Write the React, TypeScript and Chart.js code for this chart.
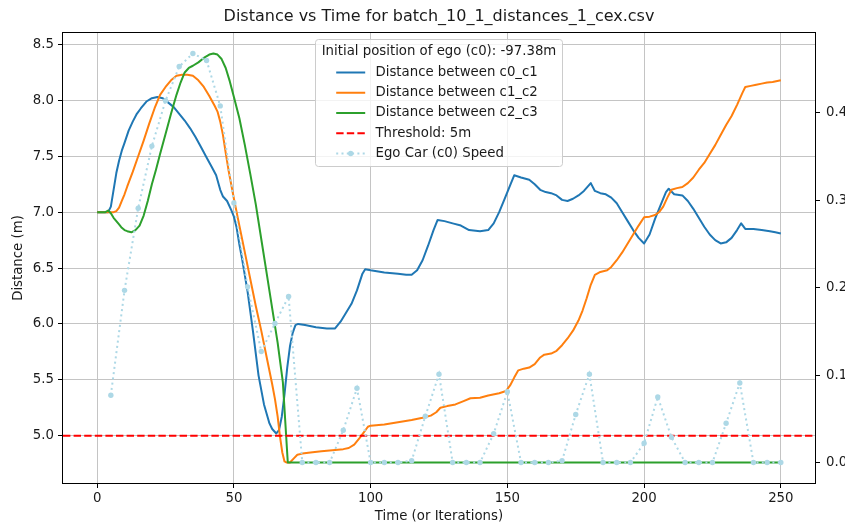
import React, { useEffect, useRef } from "react";
import { Chart, registerables } from "chart.js";

Chart.register(...registerables);

const TITLE = "Distance vs Time for batch_10_1_distances_1_cex.csv";
const X_LABEL = "Time (or Iterations)";
const Y_LABEL = "Distance (m)";
const LEGEND_TITLE = "Initial position of ego (c0): -97.38m";
const LEGEND_LABELS = [
  "Distance between c0_c1",
  "Distance between c1_c2",
  "Distance between c2_c3",
  "Threshold: 5m",
  "Ego Car (c0) Speed",
];

const X_TICKS = [0, 50, 100, 150, 200, 250];
const Y_TICKS = [5.0, 5.5, 6.0, 6.5, 7.0, 7.5, 8.0, 8.5];
const Y2_TICKS = [0.0, 0.1, 0.2, 0.3, 0.4];
const X_RANGE = [-12.5, 262.5];
const Y_RANGE = [4.577, 8.603];
const Y2_RANGE = [-0.0234, 0.4914];
const THRESHOLD = 5;

const c0c1: [number, number][] = [
  [0, 7.0], [4, 7.0], [5, 7.05], [6, 7.2], [7, 7.35], [8, 7.46], [9, 7.55], [10, 7.62], [11.5, 7.73], [13, 7.81],
  [14.5, 7.88], [16, 7.93], [18, 7.99], [20, 8.02], [22, 8.03], [24, 8.02], [26, 7.98], [28, 7.94], [30, 7.88],
  [32, 7.82], [34, 7.75], [36, 7.67], [38, 7.58], [40, 7.49], [42, 7.4], [43.5, 7.33], [45, 7.2], [46, 7.14],
  [47.5, 7.1], [49, 7.02], [50, 6.96], [51, 6.86], [52, 6.71], [53, 6.58], [55, 6.29], [57, 5.93], [59, 5.54],
  [61, 5.28], [63, 5.11], [64, 5.06], [65.5, 5.02], [66.5, 5.05], [67.5, 5.17], [68.5, 5.37], [69.5, 5.61],
  [70.5, 5.8], [71.5, 5.92], [72.5, 5.99], [73.5, 6.0], [76, 5.99], [80, 5.97], [84, 5.96], [87, 5.96], [89, 6.02],
  [91, 6.1], [93, 6.18], [95, 6.3], [97, 6.45], [98, 6.49], [100, 6.48], [105, 6.46], [110, 6.45], [113, 6.44],
  [115, 6.44], [117, 6.48], [119, 6.57], [121, 6.7], [123, 6.84], [124.5, 6.93], [127, 6.92], [130, 6.9],
  [133, 6.88], [136, 6.84], [140, 6.83], [143, 6.84], [145, 6.9], [147, 7.0], [149, 7.12], [151, 7.24],
  [152.5, 7.33], [155, 7.31], [158, 7.29], [160, 7.25], [162, 7.2], [164, 7.18], [166, 7.17], [168, 7.15],
  [170, 7.11], [172, 7.1], [174, 7.12], [176, 7.15], [178, 7.19], [180.5, 7.26], [182, 7.19], [184, 7.17],
  [186, 7.16], [188, 7.13], [190, 7.08], [192, 7.0], [194, 6.92], [196, 6.84], [198, 6.77], [200, 6.72],
  [202, 6.8], [204, 6.94], [206, 7.06], [208, 7.18], [209, 7.21], [211, 7.16], [214, 7.15], [216, 7.1],
  [218, 7.03], [220, 6.95], [222, 6.87], [224, 6.8], [226, 6.75], [228, 6.72], [230, 6.73], [232, 6.77],
  [234, 6.84], [235.5, 6.9], [237, 6.85], [240, 6.85], [243, 6.84], [246, 6.83], [248, 6.82], [250, 6.81],
];

const c1c2: [number, number][] = [
  [0, 7.0], [6, 7.0], [7, 7.01], [8, 7.04], [9, 7.1], [10, 7.16], [11, 7.23], [13, 7.36], [15, 7.5], [17, 7.64],
  [19, 7.79], [21, 7.93], [23, 8.05], [25, 8.12], [27, 8.18], [29, 8.22], [31, 8.23], [33, 8.23], [35, 8.22],
  [37, 8.18], [39, 8.12], [41, 8.04], [43, 7.95], [44, 7.9], [45, 7.81], [46, 7.69], [47, 7.53], [48, 7.38],
  [50, 7.12], [52, 6.88], [54, 6.64], [56, 6.4], [58, 6.16], [60, 5.94], [62, 5.7], [64, 5.46], [65, 5.33],
  [66, 5.17], [66.8, 5.0], [67.7, 4.85], [68.5, 4.77], [69.3, 4.76], [70.5, 4.76], [72, 4.8], [73.2, 4.83],
  [75, 4.84], [78, 4.85], [82, 4.86], [86, 4.87], [90, 4.88], [92, 4.89], [94, 4.92], [96, 4.98], [97.5, 5.03],
  [99, 5.08], [100, 5.09], [105, 5.1], [110, 5.12], [115, 5.14], [119, 5.16], [122, 5.18], [124, 5.21],
  [125.5, 5.25], [128, 5.265], [131, 5.28], [134, 5.31], [136.5, 5.335], [140, 5.34], [143, 5.36], [147, 5.38],
  [149.5, 5.4], [151, 5.45], [152.5, 5.52], [154, 5.585], [156, 5.6], [158, 5.61], [160, 5.64], [162, 5.7],
  [163.5, 5.725], [166, 5.735], [168, 5.76], [170, 5.81], [172, 5.87], [174, 5.94], [176, 6.03], [177.5, 6.12],
  [179, 6.23], [180.5, 6.35], [182, 6.44], [184, 6.465], [186.5, 6.48], [188, 6.51], [190, 6.57], [192, 6.64],
  [194, 6.72], [196, 6.8], [198, 6.88], [200, 6.955], [202, 6.96], [204, 6.975], [205.5, 7.0], [207, 7.05],
  [208.5, 7.13], [210, 7.2], [212, 7.215], [214, 7.225], [216, 7.26], [218, 7.31], [220, 7.38], [222, 7.44],
  [224, 7.52], [226, 7.6], [228, 7.69], [230, 7.78], [232, 7.86], [234, 7.96], [236, 8.07], [237, 8.12],
  [239, 8.13], [241, 8.14], [243, 8.15], [245, 8.16], [247, 8.165], [250, 8.18],
];

const c2c3: [number, number][] = [
  [0, 7.0], [3, 7.0], [4, 7.015], [5, 6.99], [6, 6.95], [7, 6.92], [8, 6.89], [9, 6.86], [10, 6.84], [11, 6.83],
  [12.5, 6.82], [14, 6.84], [15.5, 6.88], [17, 6.97], [18.5, 7.1], [20, 7.25], [21.5, 7.38], [23, 7.52],
  [25, 7.7], [27, 7.88], [29, 8.05], [30.5, 8.16], [32, 8.25], [33.5, 8.29], [35, 8.31], [37, 8.34], [39, 8.38],
  [41, 8.41], [42.5, 8.42], [44, 8.41], [45.5, 8.37], [47, 8.29], [48.5, 8.17], [50, 8.03], [52, 7.84],
  [54, 7.6], [56, 7.34], [58, 7.07], [60, 6.76], [62, 6.45], [64, 6.14], [66, 5.83], [67.9, 5.48],
  [69.7, 4.76], [250, 4.76],
];

const SPEED_X = [
  5, 10, 15, 20, 25, 30, 35, 40, 45, 50, 55, 60, 65, 70, 75, 80, 85, 90, 95, 100, 105, 110, 115, 120, 125,
  130, 135, 140, 145, 150, 155, 160, 165, 170, 175, 180, 185, 190, 195, 200, 205, 210, 215, 220, 225, 230,
  235, 240, 245, 250,
];
const SPEED = [
  0.077, 0.197, 0.291, 0.362, 0.414, 0.453, 0.468, 0.46, 0.408, 0.297, 0.201, 0.127, 0.159, 0.19, 0, 0, 0,
  0.037, 0.085, 0, 0, 0, 0.002, 0.053, 0.101, 0, 0, 0, 0.033, 0.081, 0, 0, 0, 0.002, 0.055, 0.101, 0, 0, 0,
  0.022, 0.075, 0.029, 0, 0, 0, 0.045, 0.091, 0, 0, 0,
];

const FONT = '"DejaVu Sans", "Noto Sans", sans-serif';
const BLUE = "#1f77b4";
const ORANGE = "#ff7f0e";
const GREEN = "#2ca02c";
const RED = "#ff0000";
const LIGHTBLUE = "#add8e6";
const TEXT = "#1a1a1a";
const GRID = "#c4c4c4";

const toPts = (arr: [number, number][]) => arr.map(([x, y]) => ({ x, y }));

const decorPlugin = {
  id: "decor",
  afterDraw(chart: any) {
    const { ctx, chartArea: a } = chart;
    ctx.save();
    // spines
    ctx.strokeStyle = "#000";
    ctx.lineWidth = 1;
    const l = Math.round(a.left) - 0.5;
    const t = Math.round(a.top) - 0.5;
    const r = Math.round(a.right) + 0.5;
    const b = Math.round(a.bottom) + 0.5;
    ctx.strokeRect(l, t, r - l, b - t);

    // title
    ctx.fillStyle = TEXT;
    ctx.font = `16px ${FONT}`;
    ctx.textAlign = "center";
    ctx.textBaseline = "middle";
    ctx.fillText(TITLE, (a.left + a.right) / 2, 17);

    // legend
    const w = 247;
    const h = 127;
    const cx = (a.left + a.right) / 2;
    const x0 = cx - w / 2;
    const y0 = a.top + 6.5;
    ctx.beginPath();
    const rad = 3;
    ctx.moveTo(x0 + rad, y0);
    ctx.lineTo(x0 + w - rad, y0);
    ctx.quadraticCurveTo(x0 + w, y0, x0 + w, y0 + rad);
    ctx.lineTo(x0 + w, y0 + h - rad);
    ctx.quadraticCurveTo(x0 + w, y0 + h, x0 + w - rad, y0 + h);
    ctx.lineTo(x0 + rad, y0 + h);
    ctx.quadraticCurveTo(x0, y0 + h, x0, y0 + h - rad);
    ctx.lineTo(x0, y0 + rad);
    ctx.quadraticCurveTo(x0, y0, x0 + rad, y0);
    ctx.closePath();
    ctx.fillStyle = "rgba(255,255,255,0.8)";
    ctx.fill();
    ctx.strokeStyle = "#cccccc";
    ctx.lineWidth = 1;
    ctx.stroke();

    ctx.fillStyle = TEXT;
    ctx.font = `13.3px ${FONT}`;
    ctx.textAlign = "center";
    ctx.fillText(LEGEND_TITLE, cx, y0 + 12);

    const styles = [
      { color: BLUE, dash: [] as number[] },
      { color: ORANGE, dash: [] as number[] },
      { color: GREEN, dash: [] as number[] },
      { color: RED, dash: [7.4, 3.2] },
      { color: LIGHTBLUE, dash: [2, 3.3], marker: true },
    ];
    LEGEND_LABELS.forEach((label, i) => {
      const yy = y0 + 33 + i * 20.25;
      const s: any = styles[i];
      ctx.save();
      ctx.strokeStyle = s.color;
      ctx.lineWidth = 2;
      ctx.setLineDash(s.dash);
      ctx.beginPath();
      ctx.moveTo(x0 + 20.7, yy);
      ctx.lineTo(x0 + 49.7, yy);
      ctx.stroke();
      if (s.marker) {
        ctx.setLineDash([]);
        ctx.fillStyle = s.color;
        ctx.beginPath();
        ctx.arc(x0 + 35.2, yy, 2.7, 0, Math.PI * 2);
        ctx.fill();
      }
      ctx.restore();
      ctx.fillStyle = TEXT;
      ctx.font = `13.3px ${FONT}`;
      ctx.textAlign = "left";
      ctx.textBaseline = "middle";
      ctx.fillText(label, x0 + 60, yy);
    });
    ctx.restore();
  },
};

export default function App() {
  const ref = useRef<HTMLCanvasElement | null>(null);

  useEffect(() => {
    if (!ref.current) return;
    const chart = new Chart(ref.current, {
      type: "line",
      data: {
        datasets: [
          {
            label: LEGEND_LABELS[4],
            data: SPEED_X.map((x, i) => ({ x, y: SPEED[i] })),
            yAxisID: "y1",
            borderColor: LIGHTBLUE,
            backgroundColor: LIGHTBLUE,
            borderWidth: 2,
            borderDash: [2, 3.3],
            pointRadius: 2.7,
            pointBorderWidth: 0,
            pointBackgroundColor: LIGHTBLUE,
            tension: 0,
            order: 0,
          },
          {
            label: LEGEND_LABELS[3],
            data: [
              { x: X_RANGE[0], y: THRESHOLD },
              { x: X_RANGE[1], y: THRESHOLD },
            ],
            yAxisID: "y",
            borderColor: RED,
            borderWidth: 2,
            borderDash: [7.4, 3.2],
            pointRadius: 0,
            order: 1,
          },
          {
            label: LEGEND_LABELS[2],
            data: toPts(c2c3),
            yAxisID: "y",
            borderColor: GREEN,
            borderWidth: 2,
            pointRadius: 0,
            borderJoinStyle: "round",
            order: 2,
          },
          {
            label: LEGEND_LABELS[1],
            data: toPts(c1c2),
            yAxisID: "y",
            borderColor: ORANGE,
            borderWidth: 2,
            pointRadius: 0,
            borderJoinStyle: "round",
            order: 3,
          },
          {
            label: LEGEND_LABELS[0],
            data: toPts(c0c1),
            yAxisID: "y",
            borderColor: BLUE,
            borderWidth: 2,
            pointRadius: 0,
            borderJoinStyle: "round",
            order: 4,
          },
        ],
      },
      options: {
        responsive: false,
        animation: false,
        devicePixelRatio: 1,
        layout: { padding: { top: 33, left: 0, right: 0, bottom: 0 } },
        plugins: {
          legend: { display: false },
          title: { display: false },
          tooltip: { enabled: false },
        },
        scales: {
          x: {
            type: "linear",
            min: X_RANGE[0],
            max: X_RANGE[1],
            afterBuildTicks: (s: any) => {
              s.ticks = X_TICKS.map((v) => ({ value: v }));
            },
            afterFit: (s: any) => {
              s.height = 43;
            },
            ticks: {
              callback: (v: any) => String(v),
              font: { family: FONT, size: 13.3 },
              color: TEXT,
              padding: 3,
              maxRotation: 0,
              autoSkip: false,
            },
            grid: { color: GRID, lineWidth: 1, tickColor: "#000", tickLength: 5 },
            border: { display: false },
            title: {
              display: true,
              text: X_LABEL,
              font: { family: FONT, size: 13.3 },
              color: TEXT,
              padding: { top: 0, bottom: 1 },
            },
          },
          y: {
            type: "linear",
            position: "left",
            min: Y_RANGE[0],
            max: Y_RANGE[1],
            afterBuildTicks: (s: any) => {
              s.ticks = Y_TICKS.map((v) => ({ value: v }));
            },
            afterFit: (s: any) => {
              s.width = 63;
            },
            ticks: {
              callback: (v: any) => Number(v).toFixed(1),
              font: { family: FONT, size: 13.3 },
              color: TEXT,
              padding: 4,
              autoSkip: false,
            },
            grid: { color: GRID, lineWidth: 1, tickColor: "#000", tickLength: 5 },
            border: { display: false },
            title: {
              display: true,
              text: Y_LABEL,
              font: { family: FONT, size: 13.3 },
              color: TEXT,
              padding: { top: 11, bottom: 0 },
            },
          },
          y1: {
            type: "linear",
            position: "right",
            min: Y2_RANGE[0],
            max: Y2_RANGE[1],
            afterBuildTicks: (s: any) => {
              s.ticks = Y2_TICKS.map((v) => ({ value: v }));
            },
            afterFit: (s: any) => {
              s.width = 30;
            },
            ticks: {
              callback: (v: any) => Number(v).toFixed(1),
              font: { family: FONT, size: 13.3 },
              color: TEXT,
              padding: 6,
              autoSkip: false,
            },
            grid: { drawOnChartArea: false, drawTicks: true, tickColor: "#000", tickLength: 5 },
            border: { display: false },
          },
        },
      },
      plugins: [decorPlugin],
    } as any);
    return () => chart.destroy();
  }, []);

  return (
    <div style={{ position: "fixed", left: 0, top: 0, width: 845, height: 526, background: "#fff" }}>
      <canvas ref={ref} width={845} height={526} style={{ width: 845, height: 526, display: "block" }} />
    </div>
  );
}
